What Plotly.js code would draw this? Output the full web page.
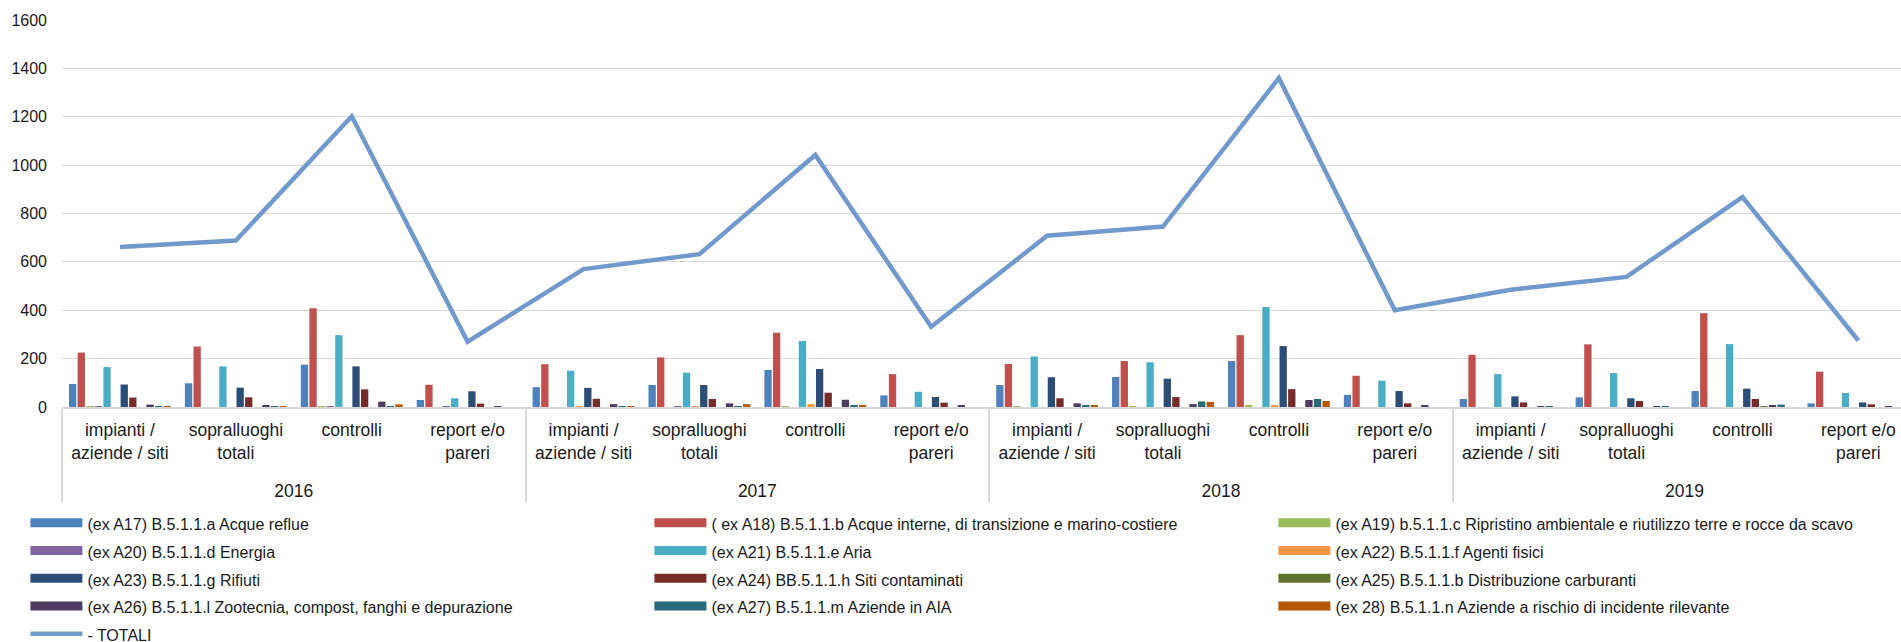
<!DOCTYPE html>
<html><head><meta charset="utf-8">
<script src="https://cdn.plot.ly/plotly-3.0.1.min.js"></script>
<style>html,body{margin:0;padding:0;background:#fff;} #chart{width:1901px;height:642px;}</style>
</head><body><div id="chart"></div>
<script>
const years = ['2016', '2017', '2018', '2019'];
const groups = ['impianti /<br>aziende / siti', 'sopralluoghi<br>totali', 'controlli', 'report e/o<br>pareri'];

const seriesNames = [
  '(ex A17) B.5.1.1.a Acque reflue',
  '( ex A18) B.5.1.1.b Acque interne, di transizione e marino-costiere',
  '(ex A19) b.5.1.1.c Ripristino ambientale e riutilizzo terre e rocce da scavo',
  '(ex A20) B.5.1.1.d Energia',
  '(ex A21) B.5.1.1.e Aria',
  '(ex A22) B.5.1.1.f Agenti fisici',
  '(ex A23) B.5.1.1.g Rifiuti',
  '(ex A24) BB.5.1.1.h Siti contaminati',
  '(ex A25) B.5.1.1.b Distribuzione carburanti',
  '(ex A26) B.5.1.1.l Zootecnia, compost, fanghi e depurazione',
  '(ex A27) B.5.1.1.m Aziende in AIA',
  '(ex 28) B.5.1.1.n Aziende a rischio di incidente rilevante'
];
const seriesColors = ['#4F81BD', '#C0504D', '#9BBB59', '#8064A2', '#4BACC6', '#F79646',
                      '#2C4D75', '#772C2A', '#5F7530', '#4D3B62', '#276A7C', '#B65708'];

// values per category: 2016 (impianti, sopralluoghi, controlli, report), 2017 ..., 2018 ..., 2019 ...
const a17 = [95, 98, 175, 29, 82, 91, 153, 48, 91, 124, 190, 50, 33, 40, 66, 15];
const a18 = [225, 250, 408, 92, 177, 205, 307, 136, 178, 190, 297, 129, 216, 259, 388, 146];
const a19 = [3, 0, 4, 0, 0, 0, 4, 0, 4, 4, 8, 0, 0, 0, 0, 0];
const a20 = [1, 0, 4, 3, 0, 4, 0, 0, 0, 0, 0, 0, 0, 0, 0, 0];
const a21 = [165, 168, 297, 36, 150, 142, 273, 63, 209, 185, 413, 109, 136, 140, 260, 58];
const a22 = [0, 0, 0, 0, 3, 4, 12, 0, 0, 0, 5, 0, 0, 0, 0, 0];
const a23 = [93, 80, 168, 65, 79, 91, 157, 41, 123, 117, 252, 66, 44, 36, 76, 19];
const a24 = [39, 40, 73, 14, 34, 33, 59, 18, 36, 41, 74, 15, 19, 25, 33, 11];
const a25 = [0, 0, 0, 0, 0, 0, 0, 0, 0, 0, 0, 0, 0, 0, 3, 0];
const a26 = [10, 7, 22, 1, 12, 15, 30, 5, 15, 12, 29, 7, 4, 4, 7, 2];
const a27 = [2, 3, 3, 0, 4, 4, 8, 0, 8, 23, 33, 0, 4, 4, 10, 0];
const a28 = [1, 4, 11, 0, 1, 12, 8, 0, 8, 21, 25, 0, 0, 0, 0, 0];
const totali = [661, 688, 1202, 270, 570, 632, 1042, 332, 708, 746, 1360, 400, 485, 538, 868, 275];
const totaliName = '- TOTALI';

const seriesValues = [a17, a18, a19, a20, a21, a22, a23, a24, a25, a26, a27, a28];

// the first inner label gets a blank trailing line so the year row sits lower, as in the original
const spacer = '<br>\u00a0';
const xYear = [], xGroup = [];
years.forEach(function (y, yi) {
  groups.forEach(function (g, gi) {
    xYear.push(y);
    xGroup.push(gi === 0 ? g + spacer : g);
  });
});
const xCat = [xYear, xGroup];

const traces = [];
seriesValues.forEach(function (vals, i) {
  traces.push({
    type: 'bar', x: xCat, y: vals, name: seriesNames[i],
    marker: {color: seriesColors[i], line: {width: 0}},
    showlegend: false, hoverinfo: 'y+name'
  });
});
// legend entries (wide rectangles like the original)
seriesValues.forEach(function (vals, i) {
  traces.push({
    type: 'scatter', mode: 'lines', x: [[xYear[0]], [xGroup[0]]], y: [null],
    name: '<span style="font-size:16px">' + seriesNames[i] + '</span>',
    line: {color: seriesColors[i], width: 9}, hoverinfo: 'skip', showlegend: true
  });
});
traces.push({
  type: 'scatter', mode: 'lines', x: xCat, y: totali,
  name: '<span style="font-size:16px">' + totaliName + '</span>',
  line: {color: '#7299CB', width: 4.5}, showlegend: true
});

const layout = {
  width: 1901, height: 642,
  margin: {l: 62, r: 0, t: 20, b: 235, autoexpand: false},
  paper_bgcolor: '#ffffff', plot_bgcolor: '#ffffff',
  font: {family: '"Liberation Sans", Arial, sans-serif', color: '#1a1a1a'},
  barmode: 'group', bargap: 0.11, bargroupgap: 0.15,
  xaxis: {
    type: 'multicategory', range: [-0.5, 15.368],
    showline: true, linecolor: '#d9d9d9', linewidth: 1.5,
    showgrid: false, ticks: '', tickfont: {size: 17.5, color: '#1a1a1a'},
    ticklabelstandoff: 6,
    showdividers: true, dividercolor: '#d9d9d9', dividerwidth: 1.5
  },
  yaxis: {
    range: [0, 1600], dtick: 200, tick0: 0,
    gridcolor: '#d9d9d9', gridwidth: 1.3, zeroline: false, showline: false,
    tickfont: {size: 16, color: '#1a1a1a'}, ticklabelstandoff: 14
  },
  showlegend: true,
  legend: {
    orientation: 'h', x: -0.0199, xanchor: 'left', y: -0.2507, yanchor: 'top',
    font: {size: 19, color: '#1a1a1a'}, itemwidth: 52, entrywidth: 557,
    traceorder: 'normal', bgcolor: 'rgba(0,0,0,0)', borderwidth: 0
  }
};

Plotly.newPlot('chart', traces, layout, {displayModeBar: false, responsive: false});
</script>
</body></html>
